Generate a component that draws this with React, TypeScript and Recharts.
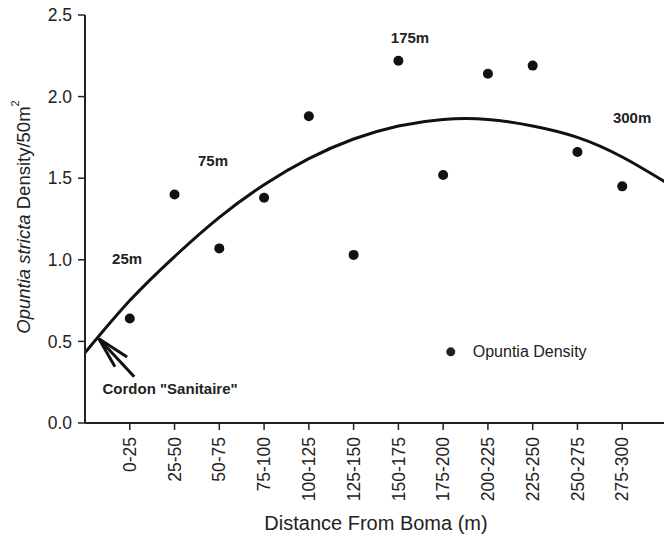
import { ComposedChart, Line, Scatter, XAxis, YAxis, ReferenceDot, ReferenceLine } from 'recharts'

const bins = ['0-25', '25-50', '50-75', '75-100', '100-125', '125-150', '150-175', '175-200', '200-225', '225-250', '250-275', '275-300']
const density = [0.64, 1.4, 1.07, 1.38, 1.88, 1.03, 2.22, 1.52, 2.14, 2.19, 1.66, 1.45]

// fitted curve at each slot (0 and 13 are the plot edges)
const curveSlots = [0, 1, 2, 3, 4, 5, 6, 7, 8, 9, 10, 11, 12, 13]
const curveValues = [0.43, 0.75, 1.02, 1.26, 1.46, 1.62, 1.74, 1.82, 1.86, 1.86, 1.82, 1.75, 1.63, 1.47]

const yTicks = [0, 0.5, 1, 1.5, 2, 2.5]

const notes = [
  { k: 0.94, v: 1.01, text: '25m' },
  { k: 2.86, v: 1.61, text: '75m' },
  { k: 7.26, v: 2.365, text: '175m' },
  { k: 12.22, v: 1.875, text: '300m' },
  { k: 1.9, v: 0.214, text: 'Cordon "Sanitaire"' },
]

const arrow = [
  [{ x: 0.31, y: 0.516 }, { x: 1.1, y: 0.283 }],
  [{ x: 0.31, y: 0.516 }, { x: 0.94, y: 0.405 }],
  [{ x: 0.31, y: 0.516 }, { x: 0.67, y: 0.344 }],
]

const legendAt = { k: 8.17, v: 0.436, text: 'Opuntia Density' }

const curveData = curveSlots.map((k, i) => ({ k, fit: curveValues[i] }))
const pointData = bins.map((b, i) => ({ k: i + 1, name: b, density: density[i] }))

const font = '"Liberation Sans", Arial, sans-serif'
const ink = '#222'

function XTick({ x, y, payload }: any) {
  return (
    <text x={x} y={y} dy="0.35em" transform={`rotate(-90 ${x} ${y})`} textAnchor="end" fontSize={17.5} fill={ink} fontFamily={font}>
      {bins[payload.value - 1]}
    </text>
  )
}

function YLabel() {
  return (
    <text x={23} y={217} transform="rotate(-90 23 217)" textAnchor="middle" dominantBaseline="central" fontSize={18.5} fill={ink} fontFamily={font}>
      <tspan fontStyle="italic">Opuntia stricta</tspan>
      <tspan> Density/50m</tspan>
      <tspan fontSize={11} dy={-8}>2</tspan>
    </text>
  )
}

function Note(text: string) {
  return (p: any) => (
    <text x={p.cx} y={p.cy} textAnchor="middle" dominantBaseline="central" fontSize={15} fontWeight="bold" fill={ink} fontFamily={font}>
      {text}
    </text>
  )
}

function LegendMark(p: any) {
  return (
    <g>
      <circle cx={p.cx} cy={p.cy} r={4.5} fill={ink} />
      <text x={p.cx + 22} y={p.cy} dominantBaseline="central" fontSize={16} fill={ink} fontFamily={font}>
        {legendAt.text}
      </text>
    </g>
  )
}

export default function App() {
  return (
    <div style={{ position: 'absolute', left: 0, top: 0, width: 664, height: 540, overflow: 'hidden', background: '#fff' }}>
      <ComposedChart width={670} height={540} data={curveData} margin={{ top: 15, right: 3, bottom: 0, left: 0 }}>
        <XAxis
          dataKey="k"
          type="number"
          domain={[0, 13]}
          ticks={[1, 2, 3, 4, 5, 6, 7, 8, 9, 10, 11, 12]}
          height={117}
          tickSize={7}
          tick={<XTick />}
          tickMargin={7}
          axisLine={{ stroke: ink, strokeWidth: 2 }}
          tickLine={{ stroke: ink, strokeWidth: 1.5 }}
          label={{ value: 'Distance From Boma (m)', position: 'insideBottom', offset: 10, fontSize: 20, fill: ink, fontFamily: font }}
        />
        <YAxis
          type="number"
          domain={[0, 2.5]}
          ticks={yTicks}
          width={85}
          tickSize={7}
          tickMargin={6}
          tickFormatter={(v: number) => v.toFixed(1)}
          tick={{ fontSize: 17.5, fill: ink, fontFamily: font }}
          axisLine={{ stroke: ink, strokeWidth: 2 }}
          tickLine={{ stroke: ink, strokeWidth: 1.5 }}
          label={<YLabel />}
        />
        <Line dataKey="fit" type="natural" stroke="#111" strokeWidth={3} dot={false} isAnimationActive={false} />
        <Scatter
          data={pointData}
          dataKey="density"
          fill="#111"
          isAnimationActive={false}
          shape={(p: any) => <circle cx={p.cx} cy={p.cy} r={5} fill="#111" />}
        />
        {arrow.map((seg, i) => (
          <ReferenceLine key={i} segment={seg} stroke="#111" strokeWidth={3} />
        ))}
        {notes.map((n) => (
          <ReferenceDot key={n.text} x={n.k} y={n.v} r={0} shape={Note(n.text)} />
        ))}
        <ReferenceDot x={legendAt.k} y={legendAt.v} r={0} shape={LegendMark} />
      </ComposedChart>
    </div>
  )
}
